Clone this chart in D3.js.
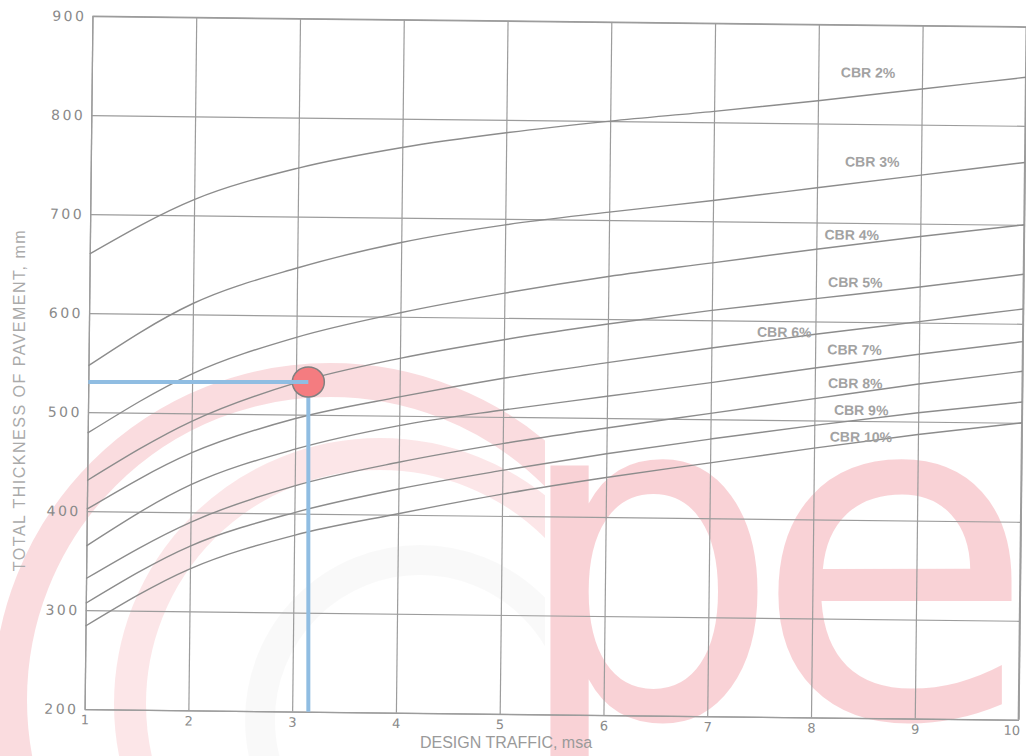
<!DOCTYPE html>
<html>
<head>
<meta charset="utf-8">
<script src="https://cdn.jsdelivr.net/npm/d3@7"></script>
<style>
  html, body { margin: 0; padding: 0; background: #ffffff; }
  svg { display: block; }
</style>
</head>
<body>
<svg id="chart" width="1026" height="756"></svg>
<script>
// Design traffic (msa) at which each curve is read
const traffic = [1, 2, 3, 4, 5, 6, 7, 8, 9, 10];

// Total pavement thickness (mm) for each subgrade CBR
const cbr2  = [660, 716, 749, 771, 787, 800, 811, 823, 836, 849];
const cbr3  = [547, 611, 648, 675, 694, 708, 721, 735, 749, 763];
const cbr4  = [479, 540, 578, 604, 625, 643, 658, 673, 687, 700];
const cbr5  = [431, 492, 532, 558, 578, 595, 610, 623, 636, 650];
const cbr6  = [402, 460, 496, 519, 539, 556, 572, 587, 601, 615];
const cbr7  = [365, 428, 465, 490, 507, 522, 537, 553, 568, 582];
const cbr8  = [332, 390, 428, 453, 473, 490, 506, 522, 538, 552];
const cbr9  = [307, 366, 401, 426, 446, 464, 480, 495, 509, 521];
const cbr10 = [284, 343, 378, 401, 422, 440, 456, 472, 487, 500];

const seriesNames = ["CBR 2%", "CBR 3%", "CBR 4%", "CBR 5%", "CBR 6%",
                     "CBR 7%", "CBR 8%", "CBR 9%", "CBR 10%"];

// Where each curve name sits, in chart units (msa, mm)
const labelTraffic   = [8.48, 8.53, 8.34, 8.38, 7.70, 8.38, 8.39, 8.45, 8.45];
const labelThickness = [852, 762, 688, 640, 589, 572, 538, 511, 484];

// Axis ticks
const xTicks = [1, 2, 3, 4, 5, 6, 7, 8, 9, 10];
const yTicks = [200, 300, 400, 500, 600, 700, 800, 900];

// Worked example
const exampleTraffic = 3.12;
const exampleThickness = 533;

const seriesValues = [cbr2, cbr3, cbr4, cbr5, cbr6, cbr7, cbr8, cbr9, cbr10];
const series = seriesNames.map((name, i) => ({
  name,
  points: traffic.map((t, j) => ({ t, v: seriesValues[i][j] })),
  lx: labelTraffic[i],
  ly: labelThickness[i]
}));

const svg = d3.select("#chart");

// ---- faint pink logo behind the grid ----
const wm = svg.append("g").attr("class", "watermark");
const defs = svg.append("defs");
defs.append("clipPath").attr("id", "ringClip")
  .append("rect").attr("x", 0).attr("y", 0).attr("width", 545).attr("height", 756);

const ringColor = "#e8505f";
const rings = wm.append("g").attr("clip-path", "url(#ringClip)");
rings.append("circle").attr("cx", 330).attr("cy", 700).attr("r", 320)
  .attr("fill", "none").attr("stroke", ringColor).attr("stroke-width", 34)
  .attr("stroke-opacity", 0.2);
rings.append("circle").attr("cx", 380).attr("cy", 704).attr("r", 250)
  .attr("fill", "none").attr("stroke", ringColor).attr("stroke-width", 32)
  .attr("stroke-opacity", 0.14);
rings.append("circle").attr("cx", 420).attr("cy", 720).attr("r", 160)
  .attr("fill", "none").attr("stroke", "#000").attr("stroke-width", 30)
  .attr("stroke-opacity", 0.025);

wm.append("text")
  .attr("transform", "translate(512,717) scale(0.92,1)")
  .attr("font-family", "DejaVu Sans")
  .attr("font-size", 460)
  .attr("fill", ringColor).attr("fill-opacity", 0.26)
  .text("p");
wm.append("text")
  .attr("transform", "translate(753,717)")
  .attr("font-family", "DejaVu Sans")
  .attr("font-size", 460)
  .attr("fill", ringColor).attr("fill-opacity", 0.26)
  .text("e");

// ---- chart frame ----
const plotLeft = 88.5, plotRight = 1022.5, plotTop = 21.5, plotBottom = 714.5;
const pivotX = 555.5, pivotY = 368, tilt = 0.65;

const x = d3.scaleLinear().domain([1, 10]).range([plotLeft, plotRight]);
const y = d3.scaleLinear().domain([200, 900]).range([plotBottom, plotTop]);

const plot = svg.append("g").attr("transform", `rotate(${tilt},${pivotX},${pivotY})`);

const gridColor = "#9c9c9c";
const tickColor = "#8a8a8a";

// vertical grid + traffic labels
const xAxis = d3.axisBottom(x).tickValues(xTicks)
  .tickSizeInner(-(plotBottom - plotTop)).tickSizeOuter(0).tickPadding(6)
  .tickFormat(d3.format("d"));
const gx = plot.append("g").attr("transform", `translate(0,${plotBottom})`).call(xAxis);
gx.select(".domain").attr("stroke", gridColor).attr("stroke-width", 1.3);
gx.selectAll(".tick line").attr("stroke", gridColor).attr("stroke-width", 1.2);
gx.selectAll(".tick text")
  .attr("fill", tickColor).attr("font-family", "DejaVu Sans").attr("font-size", 13)
  .attr("dx", d => d === 10 ? -7 : 0);

// horizontal grid + thickness labels
const yAxis = d3.axisLeft(y).tickValues(yTicks)
  .tickSizeInner(-(plotRight - plotLeft)).tickSizeOuter(0).tickPadding(6)
  .tickFormat(d3.format("d"));
const gy = plot.append("g").attr("transform", `translate(${plotLeft},0)`).call(yAxis);
gy.select(".domain").attr("stroke", gridColor).attr("stroke-width", 1.3);
gy.selectAll(".tick line").attr("stroke", gridColor).attr("stroke-width", 1.2);
gy.selectAll(".tick text")
  .attr("fill", tickColor).attr("font-family", "DejaVu Sans").attr("font-size", 14)
  .attr("letter-spacing", "2.5px");

// frame edges on the top and right
plot.append("line").attr("x1", x(1)).attr("x2", x(10)).attr("y1", y(900)).attr("y2", y(900))
  .attr("stroke", gridColor).attr("stroke-width", 1.3);
plot.append("line").attr("x1", x(10)).attr("x2", x(10)).attr("y1", y(900)).attr("y2", y(200))
  .attr("stroke", gridColor).attr("stroke-width", 1.8);

// thickness curves
const line = d3.line().x(d => x(d.t)).y(d => y(d.v)).curve(d3.curveMonotoneX);
plot.append("g").selectAll("path").data(series).join("path")
  .attr("d", d => line(d.points))
  .attr("fill", "none").attr("stroke", "#8c8c8c").attr("stroke-width", 1.4);

// curve names
plot.append("g").selectAll("text").data(series).join("text")
  .attr("x", d => x(d.lx)).attr("y", d => y(d.ly))
  .attr("text-anchor", "middle").attr("dominant-baseline", "central")
  .attr("font-family", "Liberation Sans, Arial, sans-serif")
  .attr("font-weight", "bold").attr("font-size", 14)
  .attr("fill", "#a2a2a2")
  .text(d => d.name);

// axis titles
svg.append("text")
  .attr("transform", "translate(25,400) rotate(-90)")
  .attr("text-anchor", "middle")
  .attr("font-family", "Liberation Sans, Arial, sans-serif")
  .attr("font-size", 16).attr("letter-spacing", "1.5px")
  .attr("fill", "#aaaaaa")
  .text("TOTAL THICKNESS OF PAVEMENT, mm");

svg.append("text")
  .attr("x", 506).attr("y", 748)
  .attr("text-anchor", "middle")
  .attr("font-family", "Liberation Sans, Arial, sans-serif")
  .attr("font-size", 16)
  .attr("fill", "#9a9a9a")
  .text("DESIGN TRAFFIC, msa");

// ---- worked example: read-off lines and marker ----
const rad = tilt * Math.PI / 180;
function toPage(ux, uy) {
  const dx = ux - pivotX, dy = uy - pivotY;
  return [pivotX + dx * Math.cos(rad) - dy * Math.sin(rad),
          pivotY + dx * Math.sin(rad) + dy * Math.cos(rad)];
}
const p = toPage(x(exampleTraffic), y(exampleThickness));
const pLeft = toPage(x(1), y(exampleThickness));
const pBottom = toPage(x(exampleTraffic), y(200));

const blue = "#90bde2";
svg.append("line")
  .attr("x1", p[0]).attr("x2", p[0]).attr("y1", p[1]).attr("y2", pBottom[1])
  .attr("stroke", blue).attr("stroke-width", 4);
svg.append("ellipse")
  .attr("cx", p[0]).attr("cy", p[1]).attr("rx", 16).attr("ry", 15)
  .attr("fill", "#f47c80").attr("stroke", "#808080").attr("stroke-width", 1.5);
svg.append("line")
  .attr("x1", pLeft[0]).attr("x2", p[0]).attr("y1", p[1]).attr("y2", p[1])
  .attr("stroke", blue).attr("stroke-width", 4);
</script>
</body>
</html>
